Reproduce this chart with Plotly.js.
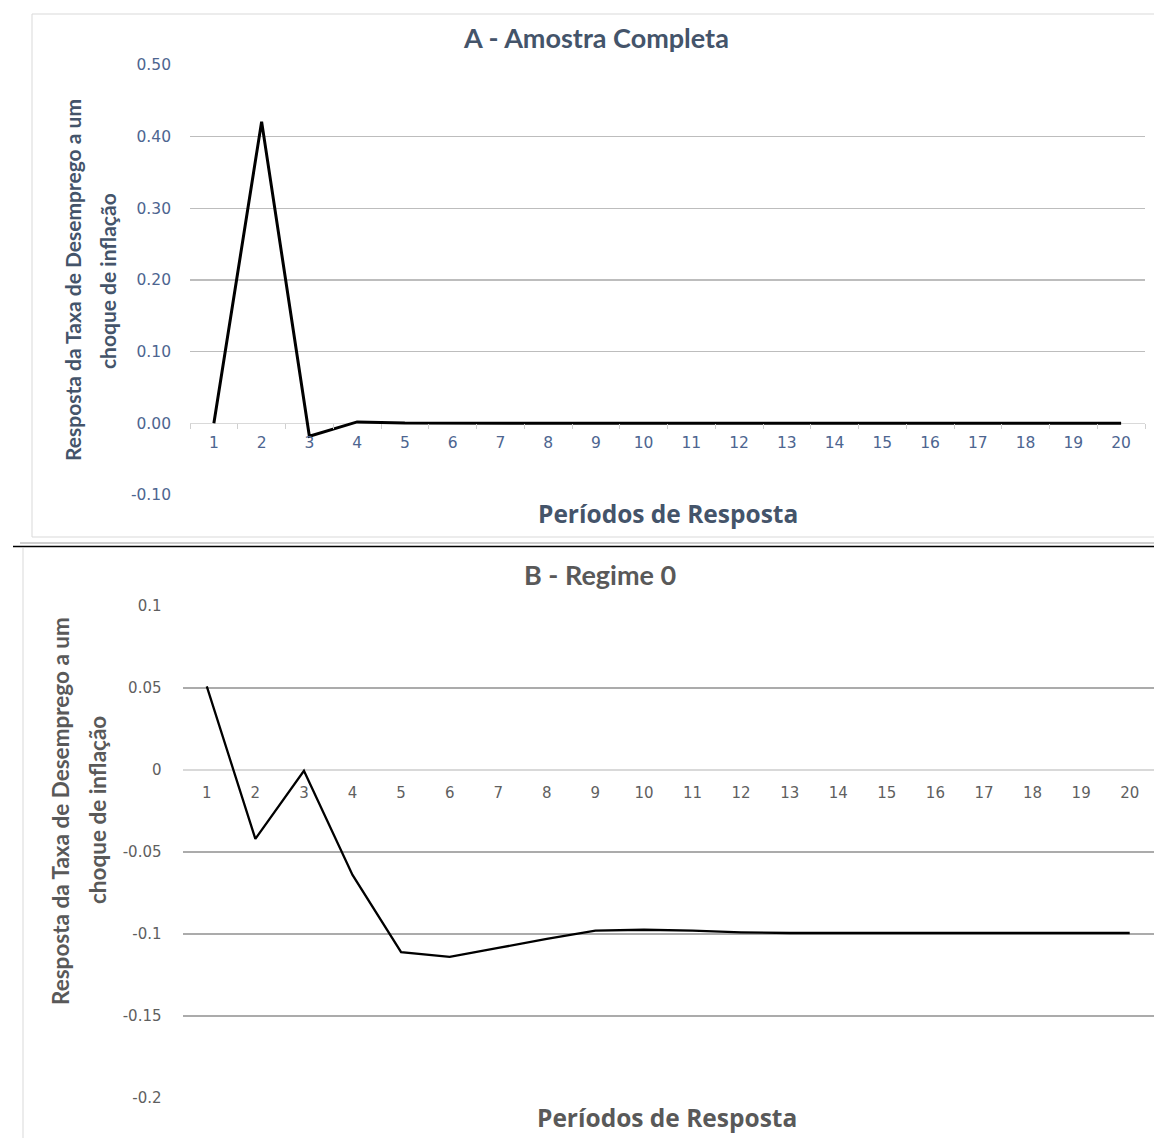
<!DOCTYPE html>
<html>
<head>
<meta charset="utf-8">
<script src="https://cdn.plot.ly/plotly-3.0.1.min.js"></script>
<style>
html,body{margin:0;padding:0;background:#fff;}
#chart{width:1154px;height:1138px;}
</style>
</head>
<body>
<div id="chart"></div>
<script>
// ---- data ----
const periods = [1,2,3,4,5,6,7,8,9,10,11,12,13,14,15,16,17,18,19,20];
const respostaA = [0, 0.421, -0.018, 0.002, 0.0003, 0, 0, 0, 0, 0, 0, 0, 0, 0, 0, 0, 0, 0, 0, 0];
const respostaB = [0.051, -0.042, -0.0005, -0.064, -0.111, -0.114, -0.1085, -0.103, -0.098, -0.0974, -0.098, -0.099, -0.0994, -0.0994, -0.0994, -0.0994, -0.0994, -0.0994, -0.0994, -0.0994];
const yTicksA = [-0.10, 0, 0.10, 0.20, 0.30, 0.40, 0.50];
const yTickTextA = ['-0.10', '0.00', '0.10', '0.20', '0.30', '0.40', '0.50'];
const yTicksB = [-0.2, -0.15, -0.1, -0.05, 0, 0.05, 0.1];
const yTickTextB = ['-0.2', '-0.15', '-0.1', '-0.05', '0', '0.05', '0.1'];
const xTickText = periods.map(String);
const titleA = 'A - Amostra Completa';
const titleB = 'B - Regime 0';
const yTitle1 = 'Resposta da Taxa de Desemprego a um';
const yTitle2 = 'choque de inflação';
const xTitle = 'Períodos de Resposta';

// ---- geometry helpers (pixel -> paper) ----
const W = 1154, H = 1138;
const px = v => v / W;
const py = v => 1 - v / H;

const domAx = [px(190), px(1145)], domAy = [py(495), py(65)];
const domBx = [px(182.5), 1], domBy = [py(1098), py(606)];
const rangeA = [-0.10, 0.50], rangeB = [-0.2, 0.1];
const zeroPos = (dom, r) => dom[0] + (0 - r[0]) / (r[1] - r[0]) * (dom[1] - dom[0]);

const colA = '#44546A', tickColA = '#4D6590';
const colB = '#595959', tickColB = '#5F5F5F';
const condensed = 'Liberation Sans Narrow, Lato, sans-serif';
const boundaries = periods.map(p => p - 0.5).concat([periods[periods.length - 1] + 0.5]);

const traces = [
  {x: periods, y: respostaA, type: 'scatter', mode: 'lines', xaxis: 'x', yaxis: 'y',
   line: {color: '#000000', width: 3}, hoverinfo: 'skip'},
  {x: periods, y: respostaB, type: 'scatter', mode: 'lines', xaxis: 'x2', yaxis: 'y2',
   line: {color: '#000000', width: 2.3}, hoverinfo: 'skip'}
];

const layout = {
  width: W, height: H,
  margin: {l: 0, r: 0, t: 0, b: 0, pad: 0},
  paper_bgcolor: '#ffffff', plot_bgcolor: 'rgba(0,0,0,0)',
  showlegend: false,
  xaxis: {
    domain: domAx, range: [0.5, 20.5], anchor: 'free', position: zeroPos(domAy, rangeA),
    tickmode: 'array', tickvals: periods, ticktext: xTickText,
    ticks: '', showgrid: false, zeroline: false, showline: false,
    ticklabelstandoff: 8,
    tickfont: {family: 'DejaVu Sans', size: 15.5, color: tickColA},
    minor: {tickmode: 'array', tickvals: boundaries, ticks: 'outside', ticklen: 5, tickcolor: '#D0D0D0', tickwidth: 1, showgrid: false},
    fixedrange: true
  },
  yaxis: {
    domain: domAy, range: rangeA, anchor: 'x',
    tickmode: 'array', tickvals: yTicksA, ticktext: yTickTextA,
    ticks: '', showgrid: true, gridcolor: '#BDBDBD', gridwidth: 1.3,
    zeroline: true, zerolinecolor: '#D9D9D9', zerolinewidth: 1.6,
    showline: false, ticklabelstandoff: 18,
    tickfont: {family: 'DejaVu Sans', size: 15.5, color: tickColA},
    fixedrange: true
  },
  xaxis2: {
    domain: domBx, range: [0.5, 20.5], anchor: 'free', position: zeroPos(domBy, rangeB),
    tickmode: 'array', tickvals: periods, ticktext: xTickText,
    ticks: '', showgrid: false, zeroline: false, showline: false,
    ticklabelstandoff: 12,
    tickfont: {family: 'DejaVu Sans', size: 15, color: tickColB},
    fixedrange: true
  },
  yaxis2: {
    domain: domBy, range: rangeB, anchor: 'x2',
    tickmode: 'array', tickvals: yTicksB, ticktext: yTickTextB,
    ticks: '', showgrid: true, gridcolor: '#ABABAB', gridwidth: 1.3,
    zeroline: true, zerolinecolor: '#D9D9D9', zerolinewidth: 1.6,
    showline: false, ticklabelstandoff: 20,
    tickfont: {family: 'DejaVu Sans', size: 15, color: tickColB},
    fixedrange: true
  },
  shapes: [
    {type: 'rect', xref: 'paper', yref: 'paper', x0: px(32), x1: px(1170), y0: py(537), y1: py(14),
     line: {color: '#D9D9D9', width: 1}, fillcolor: 'rgba(0,0,0,0)', layer: 'below'},
    {type: 'line', xref: 'paper', yref: 'paper', x0: px(20), x1: 1, y0: py(543), y1: py(543),
     line: {color: '#9E9E9E', width: 1}},
    {type: 'line', xref: 'paper', yref: 'paper', x0: px(13), x1: 1, y0: py(546.5), y1: py(546.5),
     line: {color: '#000000', width: 1.6}},
    {type: 'line', xref: 'paper', yref: 'paper', x0: px(23), x1: px(23), y0: py(548), y1: 0,
     line: {color: '#D9D9D9', width: 1}}
  ],
  annotations: [
    {text: titleA, xref: 'paper', yref: 'paper', x: px(596), y: py(37), xanchor: 'center', yanchor: 'middle',
     showarrow: false, font: {family: condensed, size: 27, color: colA, weight: 'bold'}},
    {text: yTitle1, xref: 'paper', yref: 'paper', x: px(72), y: py(280), xanchor: 'center', yanchor: 'middle',
     textangle: -90, showarrow: false, font: {family: condensed, size: 21, color: colA, weight: 'bold'}},
    {text: yTitle2, xref: 'paper', yref: 'paper', x: px(107), y: py(281), xanchor: 'center', yanchor: 'middle',
     textangle: -90, showarrow: false, font: {family: condensed, size: 21, color: colA, weight: 'bold'}},
    {text: xTitle, xref: 'paper', yref: 'paper', x: px(668), y: py(513), xanchor: 'center', yanchor: 'middle',
     showarrow: false, font: {family: 'Open Sans', size: 24.5, color: colA, weight: 'bold'}},
    {text: titleB, xref: 'paper', yref: 'paper', x: px(600), y: py(574), xanchor: 'center', yanchor: 'middle',
     showarrow: false, font: {family: condensed, size: 27, color: colB, weight: 'bold'}},
    {text: yTitle1, xref: 'paper', yref: 'paper', x: px(60), y: py(811), xanchor: 'center', yanchor: 'middle',
     textangle: -90, showarrow: false, font: {family: condensed, size: 22.5, color: colB, weight: 'bold'}},
    {text: yTitle2, xref: 'paper', yref: 'paper', x: px(97), y: py(810), xanchor: 'center', yanchor: 'middle',
     textangle: -90, showarrow: false, font: {family: condensed, size: 22.5, color: colB, weight: 'bold'}},
    {text: xTitle, xref: 'paper', yref: 'paper', x: px(667), y: py(1117), xanchor: 'center', yanchor: 'middle',
     showarrow: false, font: {family: 'Open Sans', size: 24.5, color: colB, weight: 'bold'}}
  ]
};

Plotly.newPlot('chart', traces, layout, {staticPlot: true, displayModeBar: false});
</script>
</body>
</html>
